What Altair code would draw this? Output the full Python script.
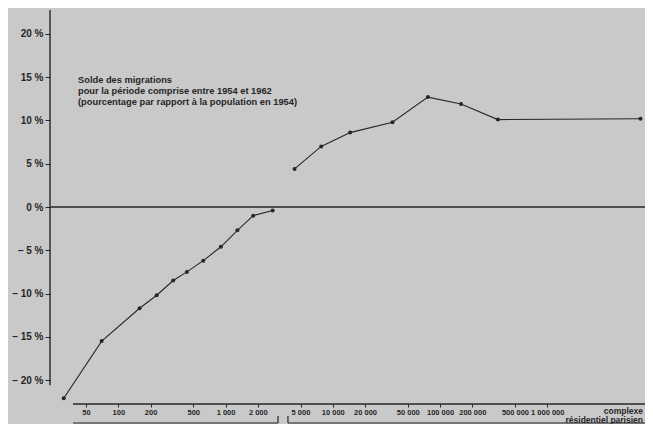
import altair as alt
import pandas as pd

# ---- data ----
RURAL_SIZE = [31, 70, 158, 228, 325, 436, 620, 905, 1290, 1810, 2750]
RURAL_PCT = [-22.1, -15.5, -11.7, -10.2, -8.5, -7.5, -6.2, -4.6, -2.7, -1.0, -0.4]
URBAN_SIZE = [4400, 7800, 14500, 36000, 77000, 157000, 346000, 7400000]
URBAN_PCT = [4.4, 7.0, 8.6, 9.8, 12.7, 11.9, 10.1, 10.2]

X_TICKS = [50, 100, 200, 500, 1000, 2000, 5000, 10000, 20000, 50000,
           100000, 200000, 500000, 1000000]
Y_TICKS = [-20, -15, -10, -5, 0, 5, 10, 15, 20]

TITLE_LINES = ["Solde des migrations",
               "pour la période comprise entre 1954 et 1962",
               "(pourcentage par rapport à la population en 1954)"]
PARIS_LABEL = ["complexe", "résidentiel parisien"]
BRACKET_BREAKS = [3085, 3820]

X_DOMAIN = [23.08, 8150000]
Y_DOMAIN = [-22.77, 22.77]
X_AXIS_START = 37.8
Y_AXIS_END = -20.6

FONT = "Liberation Sans"
INK = "#262626"
BG = "#c9c9c9"
W, H = 595, 394

rows = [{"size": s, "pct": p, "group": "rural"} for s, p in zip(RURAL_SIZE, RURAL_PCT)]
rows += [{"size": s, "pct": p, "group": "urbain"} for s, p in zip(URBAN_SIZE, URBAN_PCT)]
df = pd.DataFrame(rows)

xs = alt.Scale(type="log", domain=X_DOMAIN, nice=False)
ys = alt.Scale(domain=Y_DOMAIN, nice=False, zero=False)

x_axis = alt.Axis(
    values=X_TICKS,
    labelExpr="replace(replace(format(datum.value, ','), ',', ' '), ',', ' ')",
    domain=False, grid=False, tickSize=3, tickColor=INK, tickWidth=1,
    labelFont=FONT, labelFontSize=7.5, labelFontWeight="bold", labelColor=INK,
    labelPadding=1, labelOverlap=False, labelFlush=False, title=None,
)
y_axis = alt.Axis(
    values=Y_TICKS,
    labelExpr="datum.value < 0 ? '– ' + abs(datum.value) + ' %' : datum.value + ' %'",
    domain=False, grid=False, tickSize=5, tickColor=INK, tickWidth=1,
    labelFont=FONT, labelFontSize=10, labelFontWeight="bold", labelColor=INK,
    labelPadding=2, labelOverlap=False, title=None,
)

lines = alt.Chart(df).mark_line(color=INK, strokeWidth=1.1).encode(
    x=alt.X("size:Q", scale=xs, axis=x_axis, title=None),
    y=alt.Y("pct:Q", scale=ys, axis=y_axis, title=None),
    detail="group:N",
)
points = alt.Chart(df).mark_circle(color=INK, size=16, opacity=1).encode(
    x=alt.X("size:Q", scale=xs, title=None),
    y=alt.Y("pct:Q", scale=ys, title=None),
)

zero = alt.Chart(pd.DataFrame({"x": [X_DOMAIN[0]], "x2": [X_DOMAIN[1]], "y": [0]})).mark_rule(
    color=INK, strokeWidth=1.4
).encode(x=alt.X("x:Q", scale=xs, title=None), x2="x2:Q", y=alt.Y("y:Q", scale=ys, title=None))

yline = alt.Chart(pd.DataFrame({"x": [X_DOMAIN[0]], "y": [Y_DOMAIN[1]], "y2": [Y_AXIS_END]})).mark_rule(
    color=INK, strokeWidth=1.4
).encode(x=alt.X("x:Q", scale=xs, title=None), y=alt.Y("y:Q", scale=ys, title=None), y2="y2:Q")

xline = alt.Chart(pd.DataFrame({"x": [X_AXIS_START], "x2": [X_DOMAIN[1]], "y": [Y_DOMAIN[0]]})).mark_rule(
    color=INK, strokeWidth=1.4
).encode(x=alt.X("x:Q", scale=xs, title=None), x2="x2:Q", y=alt.Y("y:Q", scale=ys, title=None))

br_h = alt.Chart(pd.DataFrame({"x": [X_AXIS_START, BRACKET_BREAKS[1]],
                               "x2": [BRACKET_BREAKS[0], X_DOMAIN[1]]})).mark_rule(
    color=INK, strokeWidth=1.2
).encode(x=alt.X("x:Q", scale=xs, title=None), x2="x2:Q", y=alt.value(413))

br_v = alt.Chart(pd.DataFrame({"x": BRACKET_BREAKS})).mark_rule(
    color=INK, strokeWidth=1.2
).encode(x=alt.X("x:Q", scale=xs, title=None), y=alt.value(406), y2=alt.value(413))

one = pd.DataFrame({"a": [0]})
title_text = alt.Chart(one).mark_text(
    text=TITLE_LINES, align="left", baseline="top", font=FONT, fontSize=9.3,
    fontWeight="bold", color=INK, lineHeight=11,
).encode(x=alt.value(28), y=alt.value(66))

paris_text = alt.Chart(one).mark_text(
    text=PARIS_LABEL, align="right", baseline="top", font=FONT, fontSize=8.5,
    fontWeight="bold", color=INK, lineHeight=9,
).encode(x=alt.value(593), y=alt.value(396.5))

chart = alt.layer(
    zero, yline, xline, br_h, br_v, lines, points, title_text, paris_text
).properties(
    width=W, height=H, background=BG,
    padding={"left": 42, "top": 2, "right": 0, "bottom": 20},
    autosize=alt.AutoSizeParams(type="none"),
).configure_view(stroke=None)

chart.save("out.html", embed_options={"renderer": "svg", "actions": False})
